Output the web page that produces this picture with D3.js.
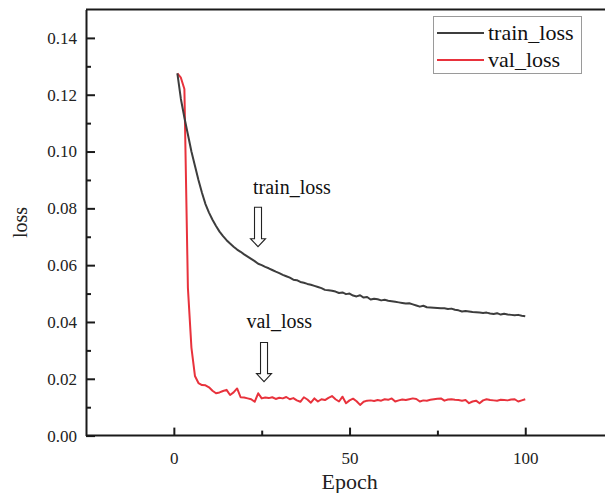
<!DOCTYPE html>
<html>
<head>
<meta charset="utf-8">
<script src="https://cdn.jsdelivr.net/npm/d3@7"></script>
<style>
  body { margin: 0; background: #fff; }
  svg { display: block; font-family: "Liberation Serif", "Times New Roman", serif; }
  svg text { font-family: "Liberation Serif", "Times New Roman", serif; }
</style>
</head>
<body>
<div id="chart"></div>
<script>
// loss per epoch (1..100)
let epochs = d3.range(1, 101);

let trainLoss = [
  0.1275, 0.1185, 0.1120, 0.1060, 0.1000, 0.0950, 0.0900, 0.0855, 0.0815, 0.0785,
  0.0760, 0.0738, 0.0718, 0.0702, 0.0688, 0.0676, 0.0665, 0.0655, 0.0647, 0.0638,
  0.0630, 0.0622, 0.0614, 0.0605, 0.0600, 0.0594, 0.0589, 0.0583, 0.0577, 0.0572,
  0.0566, 0.0561, 0.0556, 0.0549, 0.0547, 0.0541, 0.0538, 0.0534, 0.0531, 0.0527,
  0.0523, 0.0519, 0.0513, 0.0512, 0.0510, 0.0507, 0.0502, 0.0504, 0.0498, 0.0500,
  0.0493, 0.0490, 0.0494, 0.0486, 0.0488, 0.0479, 0.0482, 0.0480, 0.0476, 0.0478,
  0.0475, 0.0473, 0.0471, 0.0469, 0.0467, 0.0465, 0.0466, 0.0462, 0.0458, 0.0454,
  0.0457, 0.0452, 0.0451, 0.0450, 0.0449, 0.0448, 0.0448, 0.0446, 0.0447, 0.0443,
  0.0441, 0.0437, 0.0439, 0.0437, 0.0435, 0.0434, 0.0433, 0.0432, 0.0433, 0.0430,
  0.0428, 0.0431, 0.0426, 0.0429, 0.0426, 0.0425, 0.0424, 0.0425, 0.0422, 0.0420
];

let valLoss = [
  0.1275, 0.1260, 0.1220, 0.0520, 0.0310, 0.0210, 0.0185, 0.0178, 0.0177, 0.0170,
  0.0158, 0.0149, 0.0152, 0.0157, 0.0161, 0.0143, 0.0152, 0.0166, 0.0135, 0.0134,
  0.0131, 0.0128, 0.0119, 0.0149, 0.0131, 0.0134, 0.0132, 0.0135, 0.0129, 0.0133,
  0.0131, 0.0136, 0.0128, 0.0132, 0.0124, 0.0119, 0.0135, 0.0127, 0.0116, 0.0131,
  0.0120, 0.0128, 0.0125, 0.0133, 0.0139, 0.0128, 0.0120, 0.0137, 0.0114, 0.0124,
  0.0130, 0.0121, 0.0108, 0.0119, 0.0123, 0.0124, 0.0122, 0.0125, 0.0123, 0.0128,
  0.0126, 0.0131, 0.0120, 0.0124, 0.0127, 0.0125, 0.0128, 0.0131, 0.0129, 0.0120,
  0.0124, 0.0123, 0.0126, 0.0128, 0.0130, 0.0131, 0.0123, 0.0127, 0.0128, 0.0126,
  0.0125, 0.0123, 0.0125, 0.0114, 0.0120, 0.0123, 0.0114, 0.0124, 0.0128, 0.0125,
  0.0124, 0.0123, 0.0126, 0.0125, 0.0124, 0.0127, 0.0128, 0.0120, 0.0124, 0.0128
];

let seriesNames = ["train_loss", "val_loss"];
let xTicks = [0, 50, 100];
let xMinorTicks = [25, 75];
let yTicks = [0, 0.02, 0.04, 0.06, 0.08, 0.10, 0.12, 0.14];
let yMinorTicks = [0.01, 0.03, 0.05, 0.07, 0.09, 0.11, 0.13];

// annotation: text anchor and arrow (top -> tip), in data units
let annotations = [
  {label: "train_loss", textEpoch: 33.6, textLoss: 0.0850, arrowEpoch: 23.95, arrowTop: 0.0804, arrowTip: 0.0665},
  {label: "val_loss",   textEpoch: 30.0, textLoss: 0.0379, arrowEpoch: 25.66, arrowTop: 0.0328, arrowTip: 0.0190}
];

function mainChart() {
  let width = 605, height = 493;
  let margin = {top: 9.5, left: 86, bottom: 57.4};
  let serif = "'Liberation Serif', 'Times New Roman', serif";
  let colors = {train_loss: "#3d3d3d", val_loss: "#e8323c"};
  let axisColor = "#1a1a1a";

  let svg = d3.select("#chart").append("svg")
      .attr("width", width)
      .attr("height", height);

  let x = d3.scaleLinear().domain([-25, 125]).range([margin.left, margin.left + 150 * 3.514]);
  let y = d3.scaleLinear().domain([0, 0.15]).range([height - margin.bottom, margin.top]);

  let series = [
    {name: seriesNames[0], values: trainLoss},
    {name: seriesNames[1], values: valLoss}
  ];

  let line = d3.line()
      .x((d, i) => x(epochs[i]))
      .y(d => y(d));

  // lines (val first so train sits on top)
  svg.selectAll("path.series")
    .data(series.slice().reverse())
    .enter().append("path")
      .attr("class", "series")
      .attr("d", d => line(d.values))
      .attr("fill", "none")
      .attr("stroke", d => colors[d.name])
      .attr("stroke-width", 2)
      .attr("stroke-linejoin", "round");

  // top frame line
  svg.append("line")
      .attr("x1", x(-25)).attr("x2", width + 5)
      .attr("y1", y(0.15)).attr("y2", y(0.15))
      .attr("stroke", axisColor).attr("stroke-width", 2);

  // x axis, ticks point inward
  let xAxis = svg.append("g")
      .attr("transform", "translate(0," + y(0) + ")")
      .call(d3.axisBottom(x).tickValues(xTicks).tickSizeInner(-8).tickSizeOuter(0).tickPadding(16)
            .tickFormat(d3.format("d")));
  svg.append("g")
      .attr("transform", "translate(0," + y(0) + ")")
      .call(d3.axisBottom(x).tickValues(xMinorTicks).tickSizeInner(-5).tickSizeOuter(0).tickFormat(""))
      .call(g => g.select(".domain").remove());

  // y axis
  let yAxis = svg.append("g")
      .attr("transform", "translate(" + x(-25) + ",0)")
      .call(d3.axisLeft(y).tickValues(yTicks).tickSizeInner(-9).tickSizeOuter(0).tickPadding(9)
            .tickFormat(d3.format(".2f")));
  svg.append("g")
      .attr("transform", "translate(" + x(-25) + ",0)")
      .call(d3.axisLeft(y).tickValues(yMinorTicks).tickSizeInner(-5).tickSizeOuter(0).tickFormat(""))
      .call(g => g.select(".domain").remove());

  [xAxis, yAxis].forEach(function(g) {
    g.attr("font-family", serif).attr("font-size", 17);
  });
  svg.selectAll(".domain").attr("stroke", axisColor).attr("stroke-width", 2);
  svg.selectAll(".tick line").attr("stroke", axisColor).attr("stroke-width", 2);
  svg.selectAll(".tick text").attr("fill", "#222");
  xAxis.select(".domain").attr("d", "M" + x(-25) + ",0H" + (width + 5));

  // axis titles
  svg.append("text")
      .attr("x", x(50))
      .attr("y", 489)
      .attr("text-anchor", "middle")
      .attr("font-family", serif)
      .attr("font-size", 22)
      .attr("fill", "#222")
      .text("Epoch");

  svg.append("text")
      .attr("transform", "translate(27," + y(0.075) + ") rotate(-90)")
      .attr("text-anchor", "middle")
      .attr("font-family", serif)
      .attr("font-size", 20)
      .attr("fill", "#222")
      .text("loss");

  // annotations with hollow arrows
  let shaftHalf = 3.5, headHalf = 7.5, headLen = 8;
  annotations.forEach(function(a) {
    svg.append("text")
        .attr("x", x(a.textEpoch))
        .attr("y", y(a.textLoss))
        .attr("text-anchor", "middle")
        .attr("font-family", serif)
        .attr("font-size", 20)
        .attr("fill", "#111")
        .text(a.label);

    let cx = x(a.arrowEpoch), top = y(a.arrowTop), tip = y(a.arrowTip);
    let neck = tip - headLen;
    let pts = [
      [cx - shaftHalf, top], [cx + shaftHalf, top], [cx + shaftHalf, neck],
      [cx + headHalf, neck], [cx, tip], [cx - headHalf, neck], [cx - shaftHalf, neck]
    ];
    svg.append("path")
        .attr("d", "M" + pts.map(p => p.join(",")).join("L") + "Z")
        .attr("fill", "#fff")
        .attr("stroke", "#222")
        .attr("stroke-width", 1.1);
  });

  // legend
  let legend = svg.append("g").attr("class", "legend");
  legend.append("rect")
      .attr("x", 433.5).attr("y", 16.5)
      .attr("width", 148).attr("height", 57)
      .attr("fill", "#fff")
      .attr("stroke", "#9a9a9a")
      .attr("stroke-width", 1);

  let rowH = 27;
  let rows = legend.selectAll("g.row")
      .data(seriesNames)
      .enter().append("g")
      .attr("class", "row")
      .attr("transform", (d, i) => "translate(0," + (33 + i * rowH) + ")");
  rows.append("line")
      .attr("x1", 437).attr("x2", 484)
      .attr("y1", 0).attr("y2", 0)
      .attr("stroke", d => colors[d])
      .attr("stroke-width", 2);
  rows.append("text")
      .attr("x", 488)
      .attr("y", 7)
      .attr("font-family", serif)
      .attr("font-size", 22)
      .attr("fill", "#111")
      .text(d => d);
}

mainChart();
</script>
</body>
</html>
